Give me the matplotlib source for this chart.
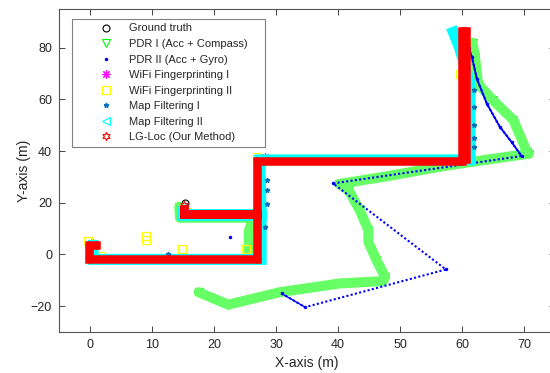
import numpy as np
import matplotlib.pyplot as plt

plt.rcParams['font.family'] = ['Liberation Sans', 'DejaVu Sans']

nan = np.nan

# ground truth route (corner points)
gt_x = [0.3, 0.3, 27.0, 27.0, 15.4, 15.4, 15.2, 27.0, 27.0, 60.4, 60.4]
gt_y = [4.5, -1.8, -1.8, 15.8, 15.8, 20.0, 15.8, 15.8, 36.4, 36.4, 86.5]

# PDR I (accelerometer + compass)
pdr1_x = [25.6, 25.6, 26.3, 14.5, 14.4, nan,
          17.5, 22.3, 30.6, 40.3, 47.3, 47.6, 46.2, 44.9, 44.9, 43.5, 41.7, 40.2,
          48.0, 56.5, 64.0, 70.8, 70.5, 68.3, 65.0, 62.6, 62.1, 61.7]
pdr1_y = [1.5, 9.0, 14.2, 14.2, 18.5, nan,
          -14.6, -19.4, -14.6, -11.2, -10.3, -8.7, -2.2, 4.9, 9.4, 17.1, 24.9, 27.3,
          30.3, 34.0, 36.7, 39.0, 39.6, 52.0, 59.7, 66.0, 76.4, 82.0]

# PDR II (accelerometer + gyroscope)
pdr2_x = [22.5, nan, 30.9, 34.7, 57.4, 39.2, 69.6, 68.0, 66.1, 64.0, 62.4, 61.6, 61.1]
pdr2_y = [6.8, nan, -15.1, -20.4, -5.8, 27.5, 38.1, 43.5, 49.4, 58.4, 68.0, 76.4, 79.8]

# WiFi fingerprinting estimates
wifi1_x = [0.6, 2.7, 28.2]
wifi1_y = [3.8, -1.9, 37.6]
wifi2_x = [-0.4, 1.8, 9.0, 9.0, 14.8, 25.2, 15.6, 26.1, 26.9, 59.7]
wifi2_y = [5.2, -0.5, 7.1, 5.5, 2.0, 2.2, 16.5, 15.9, 37.8, 70.0]

# map filtering
mf1_x = [28.5, 28.5, 28.5, 28.3, 12.5, 61.9, 61.9, 61.9, 61.9, 61.9]
mf1_y = [28.7, 24.9, 19.7, 10.7, 0.3, 63.6, 57.0, 50.0, 45.0, 41.6]
mf2_x = [0.5, 0.5, 27.6, 27.6, 15.0, 15.0, 15.0, 27.6, 27.4, 61.3, 61.3, 59.6, 58.6]
mf2_y = [3.5, -1.9, -1.9, 15.3, 15.3, 18.5, 15.3, 15.3, 36.6, 36.6, 66.0, 80.0, 86.0]

# LG-Loc
lg_x = [1.0, -0.1, -0.1, 27.0, 27.0, 15.15, 15.15, 15.15, 27.0, 27.0, 60.0, 60.0, 60.7, 60.7]
lg_y = [3.6, 3.6, -1.9, -1.9, 15.8, 15.8, 19.0, 15.8, 15.8, 36.3, 36.3, 86.5, 86.5, 37.0]

px = 0.72  # points per pixel at 100 dpi

fig = plt.figure(figsize=(5.5, 3.73), dpi=100)
ax = fig.add_axes([59 / 550, 41 / 373, 496 / 550, 323 / 373])

# ground truth
gt, = ax.plot(gt_x, gt_y, 'o', color='black', mfc='none', ms=5, mew=0.8,
              label='Ground truth', zorder=2)

# PDR I band
h1, = ax.plot(pdr1_x, pdr1_y, 'v', color=(0, 1, 0), mfc='none', ms=6, mew=0.8,
              label='PDR I (Acc + Compass)', zorder=2.9)
ax.plot(pdr1_x, pdr1_y, '-', color=(0.4, 1.0, 0.4), lw=10 * px,
        solid_joinstyle='round', solid_capstyle='round', zorder=3)

# PDR II
ax.plot(pdr2_x, pdr2_y, color='blue', lw=1.5, linestyle=(0, (1, 1.1)), zorder=4)
ax.plot(pdr2_x[2:4], pdr2_y[2:4], color='blue', lw=1.0, zorder=4)
ax.plot(pdr2_x[6:], pdr2_y[6:], color='blue', lw=1.3, zorder=4)
h2, = ax.plot(pdr2_x, pdr2_y, '.', color='blue', ms=3,
              label='PDR II (Acc + Gyro)', zorder=4)

h3, = ax.plot(wifi1_x, wifi1_y, marker=(8, 2, 0), ls='none', color='magenta',
              ms=6, mew=0.8, label='WiFi Fingerprinting I', zorder=5)
h4, = ax.plot(wifi2_x, wifi2_y, 's', color='yellow', mfc='none', ms=5.5, mew=0.9,
              label='WiFi Fingerprinting II', zorder=6)

# map filtering II band
h6, = ax.plot(mf2_x, mf2_y, '<', color='cyan', mfc='none', ms=6, mew=0.8,
              label='Map Filtering II', zorder=6.9)
ax.plot(mf2_x, mf2_y, '-', color='cyan', lw=11 * px,
        solid_joinstyle='miter', solid_capstyle='projecting', zorder=7)
h5, = ax.plot(mf1_x, mf1_y, '*', color=(0, 0.447, 0.741), ms=3.5,
              label='Map Filtering I', zorder=7.5)

# LG-Loc band
h7, = ax.plot(lg_x, lg_y, marker=(6, 1, 0), ls='none', color='red', mfc='none',
              ms=6, mew=0.8, label='LG-Loc (Our Method)', zorder=7.9)
ax.plot(lg_x, lg_y, '-', color='red', lw=8.5 * px,
        solid_joinstyle='miter', solid_capstyle='projecting', zorder=8)

ax.set_xlim(-5, 75)
ax.set_ylim(-30, 95)
ax.set_xticks(range(0, 80, 10))
ax.set_yticks(range(-20, 90, 20))
ax.tick_params(direction='in', top=True, right=True, length=4, width=0.6,
               labelsize=9, colors='#262626', pad=5)
for s in ax.spines.values():
    s.set_color('#555555')
    s.set_linewidth(0.8)
ax.set_xlabel('X-axis (m)', fontsize=10, color='#262626', labelpad=4)
ax.set_ylabel('Y-axis (m)', fontsize=10, color='#262626', labelpad=0)

leg = ax.legend(handles=[gt, h1, h2, h3, h4, h5, h6, h7],
                loc='upper left', mode='expand',
                bbox_to_anchor=(72 / 550, 1 - 147 / 373, 193 / 550, 128 / 373),
                bbox_transform=fig.transFigure, borderaxespad=0,
                fontsize=8, numpoints=1, handlelength=5.3, handletextpad=-0.55,
                labelspacing=0.5, borderpad=0.4, fancybox=False, framealpha=1)
leg.get_frame().set_edgecolor('#808080')
leg.get_frame().set_linewidth(0.8)
for t in leg.get_texts():
    t.set_color('#262626')

fig.savefig('out.png', dpi=100)
